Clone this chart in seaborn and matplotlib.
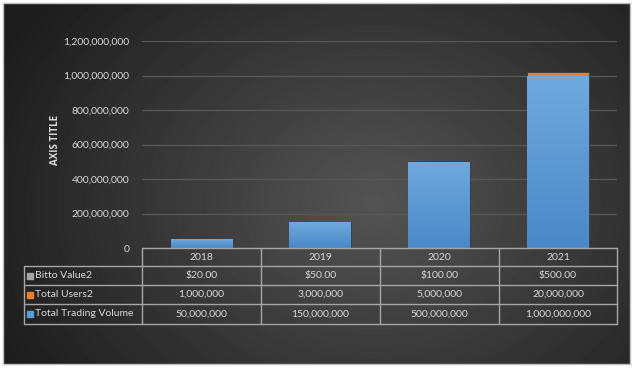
import numpy as np
import pandas as pd
import matplotlib
matplotlib.use("Agg")
import matplotlib.pyplot as plt
import seaborn as sns

# ---- data ----
years = ["2018", "2019", "2020", "2021"]
trading_volume = [50_000_000, 150_000_000, 500_000_000, 1_000_000_000]
total_users = [1_000_000, 3_000_000, 5_000_000, 20_000_000]
bitto_value = [20, 50, 100, 500]
series_names = ["Bitto Value2", "Total Users2", "Total Trading Volume"]
y_ticks = [0, 200_000_000, 400_000_000, 600_000_000, 800_000_000, 1_000_000_000, 1_200_000_000]

df = pd.DataFrame({
    "Year": years,
    "Trading": trading_volume,
    "Users": total_users,
    "Bitto": bitto_value,
})
df["Users_cum"] = df["Trading"] + df["Users"]
df["Bitto_cum"] = df["Users_cum"] + df["Bitto"]

sns.set_theme(style="dark")
plt.rcParams["font.family"] = ["Lato", "DejaVu Sans"]

TXT = "#d9d9d9"
GRID = "#575757"
LINE = "#a6a6a6"
BLUE = "#5b9bd5"
ORANGE = "#ed7d31"
GRAY = "#a5a5a5"

W, H = 640, 370
fig = plt.figure(figsize=(6.4, 3.7), dpi=100)
fig.patch.set_facecolor("white")

# ---- dark radial background ----
bg = fig.add_axes([3 / W, 1 - 364 / H, 627 / W, 361 / H])
yy, xx = np.mgrid[0:361, 0:627]
r = np.sqrt(((xx - 370) / 420) ** 2 + ((yy - 200) / 330) ** 2)
shade = np.clip(0.33 - 0.22 * r, 0.11, 0.33)
bg.imshow(shade, cmap="gray", vmin=0, vmax=1, aspect="auto", interpolation="bilinear")
bg.set_xticks([])
bg.set_yticks([])
for s in bg.spines.values():
    s.set_color("#bfbfbf")
    s.set_linewidth(1)

# ---- main chart ----
px = lambda x0, y0, x1, y1: [x0 / W, 1 - y1 / H, (x1 - x0) / W, (y1 - y0) / H]
ax = fig.add_axes(px(142, 41, 617, 248))
ax.patch.set_alpha(0)

sns.barplot(data=df, x="Year", y="Bitto_cum", color=GRAY, width=0.52, ax=ax, saturation=1)
sns.barplot(data=df, x="Year", y="Users_cum", color=ORANGE, width=0.52, ax=ax, saturation=1)
sns.barplot(data=df, x="Year", y="Trading", color=BLUE, width=0.52, ax=ax, saturation=1)
for p in ax.patches:
    p.set_edgecolor("#3a3a3a")
    p.set_linewidth(0.6)

ax.set_xlim(-0.5, 3.5)
ax.set_ylim(0, 1_200_000_000)

# vertical gradient on the blue bars (lighter top, darker bottom)
grad = np.linspace(0, 1, 64).reshape(-1, 1)
blue_cmap = matplotlib.colors.LinearSegmentedColormap.from_list("b", ["#4a88c7", "#70a9de"])
for p in ax.patches[-len(years):]:
    x0, y0 = p.get_x(), p.get_y()
    w, h = p.get_width(), p.get_height()
    im = ax.imshow(grad, cmap=blue_cmap, aspect="auto", origin="lower",
                   extent=[x0, x0 + w, y0, y0 + h], zorder=p.get_zorder())
    im.set_clip_path(p)
ax.set_xlim(-0.5, 3.5)
ax.set_ylim(0, 1_200_000_000)

ax.set_yticks(y_ticks)
ax.set_yticklabels([f"{v:,.0f}" for v in y_ticks], color=TXT, fontsize=7.5)
ax.tick_params(axis="y", length=0, pad=9)
ax.set_xticks([])
ax.set_xlabel("")
ax.set_ylabel("")
ax.grid(axis="y", color=GRID, linewidth=1)
ax.grid(axis="x", visible=False)
for s in ax.spines.values():
    s.set_visible(False)
ax.set_axisbelow(True)

fig.text(55 / W, 1 - 140 / H, "AXIS TITLE", rotation=90, color=TXT,
         fontsize=7, fontweight="bold", ha="center", va="center",
         family=["Open Sans", "DejaVu Sans"])

# ---- data table below ----
col_edges = [142, 261, 380, 499, 617]
row_edges = [248, 266, 285, 304, 324]
tab_left = 24


def line(x0, y0, x1, y1):
    fig.add_artist(plt.Line2D([x0 / W, x1 / W], [1 - y0 / H, 1 - y1 / H],
                              color=LINE, linewidth=1, transform=fig.transFigure))


# horizontal lines
line(col_edges[0], row_edges[0], col_edges[-1], row_edges[0])
for y in row_edges[1:]:
    line(tab_left, y, col_edges[-1], y)
# vertical lines
for x in col_edges:
    line(x, row_edges[0], x, row_edges[-1])
line(tab_left, row_edges[1], tab_left, row_edges[-1])

for i, yr in enumerate(years):
    cx = (col_edges[i] + col_edges[i + 1]) / 2
    fig.text(cx / W, 1 - (row_edges[0] + row_edges[1]) / 2 / H, yr, color=TXT,
             fontsize=7.5, ha="center", va="center")

rows = [
    (series_names[0], GRAY, [f"${v:,.2f}" for v in bitto_value]),
    (series_names[1], ORANGE, [f"{v:,.0f}" for v in total_users]),
    (series_names[2], BLUE, [f"{v:,.0f}" for v in trading_volume]),
]
for r_i, (name, col, vals) in enumerate(rows):
    cy = (row_edges[r_i + 1] + row_edges[r_i + 2]) / 2
    fig.patches.append(plt.Rectangle(((tab_left + 3) / W, 1 - (cy + 3) / H), 6 / W, 6 / H,
                                     color=col, transform=fig.transFigure))
    fig.text((tab_left + 11) / W, 1 - cy / H, name, color=TXT,
             fontsize=7.5, ha="left", va="center")
    for i, v in enumerate(vals):
        cx = (col_edges[i] + col_edges[i + 1]) / 2
        fig.text(cx / W, 1 - cy / H, v, color=TXT, fontsize=7.5, ha="center", va="center")

fig.savefig("out.png", dpi=100, facecolor=fig.get_facecolor())
